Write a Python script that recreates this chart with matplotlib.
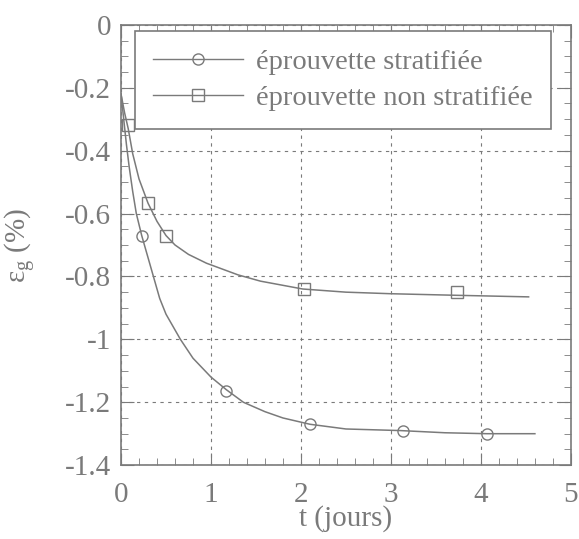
import numpy as np
import matplotlib.pyplot as plt
from matplotlib.ticker import MultipleLocator

# courbes lissées
t_strat = [0.0, 0.03, 0.06, 0.09, 0.13, 0.17, 0.23, 0.3, 0.36, 0.43, 0.5,
           0.58, 0.66, 0.8, 1.0, 1.17, 1.36, 1.6, 1.8, 2.1, 2.5, 3.1, 3.6,
           4.07, 4.6]
eps_strat = [-0.22, -0.30, -0.38, -0.45, -0.53, -0.60, -0.67, -0.74, -0.80,
             -0.87, -0.92, -0.96, -1.00, -1.06, -1.12, -1.16, -1.20, -1.23,
             -1.25, -1.27, -1.285, -1.29, -1.297, -1.30, -1.30]
t_non = [0.0, 0.04, 0.08, 0.13, 0.2, 0.3, 0.4, 0.5, 0.6, 0.75, 0.95, 1.3,
         1.55, 2.02, 2.5, 3.0, 3.73, 4.53]
eps_non = [-0.22, -0.28, -0.33, -0.41, -0.49, -0.567, -0.625, -0.67, -0.70,
           -0.73, -0.758, -0.795, -0.815, -0.84, -0.85, -0.855, -0.86, -0.865]

# points de mesure (marqueurs)
t_strat_pts = [0.23, 1.17, 2.1, 3.13, 4.07]
eps_strat_pts = [-0.67, -1.165, -1.27, -1.29, -1.30]
t_non_pts = [0.08, 0.3, 0.5, 2.03, 3.73]
eps_non_pts = [-0.32, -0.567, -0.67, -0.84, -0.85]

gris = '#7a7a7a'
plt.rcParams['font.family'] = ['Liberation Serif', 'DejaVu Serif']
plt.rcParams['mathtext.fontset'] = 'custom'
plt.rcParams['mathtext.rm'] = 'Liberation Serif'

fig = plt.figure(figsize=(5.79, 5.39), dpi=100)
ax = fig.add_axes([0.209, 0.137, 0.777, 0.817])

ax.plot(t_strat, eps_strat, color=gris, lw=1.1)
ax.plot(t_non, eps_non, color=gris, lw=1.1)
ax.plot(t_strat_pts, eps_strat_pts, 'o', mfc='none', mec=gris, ms=8, mew=1)
ax.plot(t_non_pts, eps_non_pts, 's', mfc='none', mec=gris, ms=9, mew=1)

# entrées de légende (ligne + marqueur)
ax.plot([], [], '-o', color=gris, mfc='none', ms=8, lw=1,
        label='éprouvette stratifiée')
ax.plot([], [], '-s', color=gris, mfc='none', ms=9, lw=1,
        label='éprouvette non stratifiée')

ax.set_xlim(0, 5)
ax.set_ylim(-1.4, 0)
ax.set_xticks([0, 1, 2, 3, 4, 5])
ax.set_xticklabels(['0', '1', '2', '3', '4', '5'])
ax.set_yticks([-1.4, -1.2, -1.0, -0.8, -0.6, -0.4, -0.2, 0])
ax.set_yticklabels(['-1.4', '-1.2', '-1', '-0.8', '-0.6', '-0.4', '-0.2', '0'])
ax.xaxis.set_minor_locator(MultipleLocator(0.2))
ax.yaxis.set_minor_locator(MultipleLocator(0.05))
ax.tick_params(which='both', direction='in', top=True, right=True,
               color=gris, labelcolor=gris, labelsize=21, pad=7)
ax.tick_params(axis='x', which='major', pad=12)
ax.tick_params(which='major', length=9)
ax.tick_params(which='minor', length=5)
for s in ax.spines.values():
    s.set_color(gris)
    s.set_linewidth(1.2)

ax.grid(True, which='major', ls=(0, (3, 4)), color=gris, lw=0.8)

ax.set_xlabel('t (jours)', color=gris, fontsize=21, labelpad=-2)
ax.set_ylabel(r'ε$_{\mathrm{g}}$ (%)', color=gris, fontsize=21)
ax.yaxis.set_label_coords(-0.185, 0.5)

leg = ax.legend(loc='upper left', bbox_to_anchor=(0.031, 0.986),
                fontsize=20.5, frameon=True, fancybox=False,
                handlelength=3.15, handletextpad=0.45, borderpad=0.65,
                labelspacing=0.33, borderaxespad=0)
leg.get_frame().set_edgecolor(gris)
leg.get_frame().set_linewidth(1.2)
leg.get_frame().set_alpha(1)
for txt in leg.get_texts():
    txt.set_color(gris)

fig.savefig('out.png', dpi=100)
